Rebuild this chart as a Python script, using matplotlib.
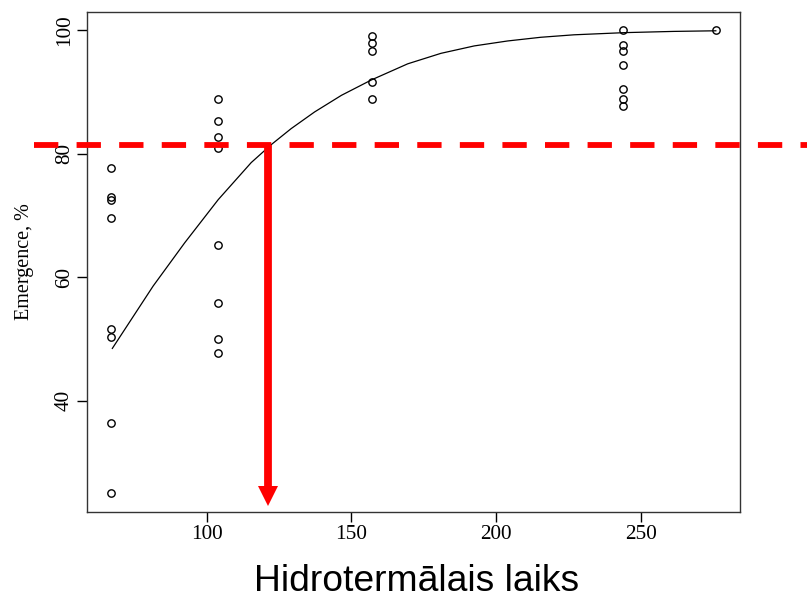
import matplotlib.pyplot as plt

# hydrothermal time groups and emergence (%) observations
time_groups = [67, 104, 157, 244, 276]
emergence = [
    [77.8, 73.1, 72.5, 69.6, 51.7, 50.4, 36.4, 25.0],
    [88.9, 85.3, 82.7, 80.9, 65.2, 55.9, 50.0, 47.7],
    [99.1, 97.9, 96.6, 91.7, 88.9],
    [100.0, 97.6, 96.6, 94.4, 90.6, 88.9, 87.8],
    [100.0],
]

# fitted curve
curve_x = [67.4, 81.5, 92.4, 104.0, 115.4, 122.3, 129.2, 137.3, 146.6, 157.0,
           169.5, 181.0, 192.5, 204.0, 215.5, 227.0, 244.4, 261.4, 276.0]
curve_y = [48.5, 58.6, 65.6, 72.6, 78.6, 81.5, 84.1, 86.8, 89.5, 92.0,
           94.6, 96.3, 97.5, 98.3, 98.9, 99.3, 99.65, 99.85, 99.95]

# 80 % emergence threshold marking
target_pct = 81.5
target_time = 121.3
arrow_tip = 24.6
dash_from = 40.2
dash_to = 330

serif = "Liberation Serif"

fig = plt.figure(figsize=(8.07, 5.98), dpi=100)
ax = fig.add_axes([0.1078, 0.1438, 0.8092, 0.8362])

for t, vals in zip(time_groups, emergence):
    ax.plot([t] * len(vals), vals, "o", mfc="none", mec="black", ms=5.3, mew=1.0, zorder=3)

ax.plot(curve_x, curve_y, color="black", lw=0.9, zorder=3)

ax.plot([dash_from, dash_to], [target_pct, target_pct], color="red", lw=4.2,
        dashes=(4.17, 3.13), solid_capstyle="butt", dash_capstyle="butt",
        clip_on=False, zorder=5)
ax.plot([target_time, target_time], [target_pct, arrow_tip], color="red", lw=5.6,
        solid_capstyle="butt", clip_on=False, zorder=5)
ax.plot([target_time], [arrow_tip], marker="v", color="red", ms=15, mew=0,
        clip_on=False, zorder=5)

allx = [t for t, v in zip(time_groups, emergence) for _ in v]
ally = [y for v in emergence for y in v]
xr = max(allx) - min(allx)
yr = max(ally) - min(ally)
ax.set_xlim(min(allx) - 0.04 * xr, max(allx) + 0.04 * xr)
ax.set_ylim(min(ally) - 0.04 * yr, max(ally) + 0.04 * yr)

ax.set_xticks([100, 150, 200, 250])
ax.set_yticks([40, 60, 80, 100])
ax.tick_params(direction="out", length=7.5, width=1, pad=2, labelsize=15.3, colors="black")
for lab in ax.get_xticklabels() + ax.get_yticklabels():
    lab.set_fontfamily(serif)
for lab in ax.get_yticklabels():
    lab.set_rotation(90)
    lab.set_va("center")

for s in ax.spines.values():
    s.set_linewidth(1.0)
    s.set_color("#333333")

ax.set_ylabel("Emergence, %", fontfamily=serif, fontsize=14.5, labelpad=15)
ax.set_xlabel("Hidrotermālais laiks", fontfamily="Liberation Sans", fontsize=26.8, labelpad=14)
ax.xaxis.label.set_x(0.5046)

plt.savefig("out.png", dpi=100)
